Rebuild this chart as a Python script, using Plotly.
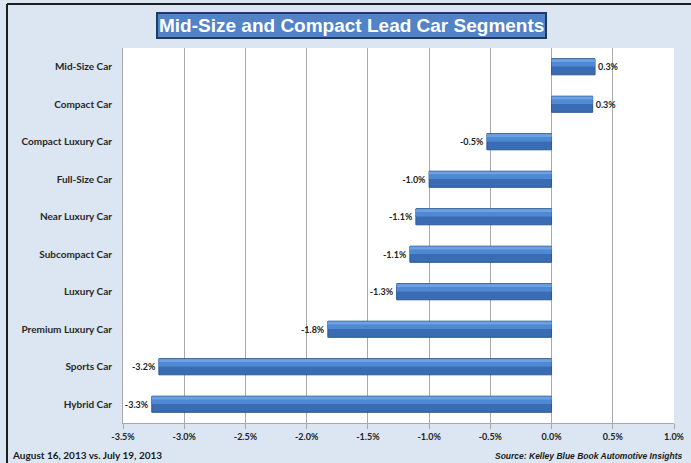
import plotly.graph_objects as go

categories = ["Mid-Size Car", "Compact Car", "Compact Luxury Car", "Full-Size Car",
              "Near Luxury Car", "Subcompact Car", "Luxury Car", "Premium Luxury Car",
              "Sports Car", "Hybrid Car"]
values = [0.355, 0.336, -0.528, -1.00, -1.108, -1.157, -1.265, -1.827, -3.207, -3.265]
value_labels = ["0.3%", "0.3%", "-0.5%", "-1.0%", "-1.1%", "-1.1%", "-1.3%", "-1.8%", "-3.2%", "-3.3%"]
tick_vals = [-3.5, -3.0, -2.5, -2.0, -1.5, -1.0, -0.5, 0.0, 0.5, 1.0]
tick_text = ["-3.5%", "-3.0%", "-2.5%", "-2.0%", "-1.5%", "-1.0%", "-0.5%", "0.0%", "0.5%", "1.0%"]

W, H = 691, 463
L, R, T, B = 123, 17, 48, 40
pw, ph = W - L - R, H - T - B

def px(x):
    return (x - L) / pw

def py(y):
    return (H - B - y) / ph

fig = go.Figure()
fig.add_trace(go.Bar(
    y=categories, x=values, orientation="h",
    width=0.43,
    marker=dict(color="#3A6CB4", line=dict(color="#2B5791", width=1)),
    text=value_labels, textposition="outside", cliponaxis=False,
    textfont=dict(family="Lato", size=9, color="#1E1E1E", weight="bold"),
    hoverinfo="skip",
))
# lighter band on the upper part of each bar (gradient look)
fig.add_trace(go.Bar(
    y=categories, x=values, orientation="h",
    width=0.2, offset=-0.205,
    marker=dict(color="#5089D3", line=dict(width=0)),
    hoverinfo="skip",
))
fig.add_trace(go.Bar(
    y=categories, x=values, orientation="h",
    width=0.07, offset=-0.2,
    marker=dict(color="#6CA2E2", line=dict(width=0)),
    hoverinfo="skip",
))

fig.update_layout(
    width=W, height=H,
    autosize=False,
    margin=dict(l=L, r=R, t=T, b=B, autoexpand=False),
    paper_bgcolor="#DCE6F2",
    plot_bgcolor="#FFFFFF",
    showlegend=False,
    barmode="overlay",
    xaxis=dict(
        range=[-3.5, 1.0], tickvals=tick_vals, ticktext=tick_text,
        showgrid=True, gridcolor="#A9A9A9", gridwidth=1,
        zeroline=True, zerolinecolor="#A9A9A9", zerolinewidth=1,
        showline=True, linecolor="#A9A9A9", linewidth=1,
        ticks="outside", ticklen=5, tickcolor="#A9A9A9",
        tickfont=dict(family="Lato", size=9, color="#222222", weight="bold"),
        fixedrange=True, automargin=False,
    ),
    yaxis=dict(
        autorange="reversed", showgrid=False, zeroline=False, showline=True,
        linecolor="#A9A9A9", linewidth=1,
        ticks="", ticklabelstandoff=8,
        tickfont=dict(family="Lato", size=10, color="#262626", weight="bold"),
        fixedrange=True, automargin=False,
    ),
    yaxis2=dict(
        overlaying="y", anchor="free", position=3.5 / 4.5,
        range=[9.5, -0.5], tickvals=[0.5 + i for i in range(9)],
        showticklabels=False, ticks="outside", ticklen=4, tickcolor="#A9A9A9",
        showgrid=False, zeroline=False, showline=False, side="left",
        automargin=False,
    ),
)

# outer frame lines (top and left)
fig.add_shape(type="line", xref="paper", yref="paper",
              x0=px(7), x1=px(W), y0=py(4), y1=py(4),
              line=dict(color="#1E1E1E", width=2))
fig.add_shape(type="line", xref="paper", yref="paper",
              x0=px(7), x1=px(7), y0=py(4), y1=py(H),
              line=dict(color="#1E1E1E", width=2))

# title box
fig.add_annotation(
    xref="paper", yref="paper", x=px(351.5), y=py(25),
    text="<b>Mid-Size and Compact Lead Car Segments</b>", showarrow=False,
    font=dict(family="Liberation Sans", size=19, color="#FFFFFF"),
    bgcolor="#5183C6", bordercolor="#1F3A63", borderwidth=2, borderpad=1,
    xanchor="center", yanchor="middle",
)

fig.add_annotation(
    xref="paper", yref="paper", x=px(10), y=py(455),
    text="<b>August 16, 2013 vs. July 19, 2013</b>", showarrow=False,
    font=dict(family="Lato", size=10, color="#1A1A1A"),
    xanchor="left", yanchor="middle",
)
fig.add_annotation(
    xref="paper", yref="paper", x=px(684), y=py(456),
    text="<b><i>Source: Kelley Blue Book Automotive Insights</i></b>", showarrow=False,
    font=dict(family="Liberation Sans", size=8.5, color="#1A1A1A"),
    xanchor="right", yanchor="middle",
)

fig.write_html(
    "out.html",
    post_script="document.body.style.margin='0';document.body.style.overflow='hidden';",
)
